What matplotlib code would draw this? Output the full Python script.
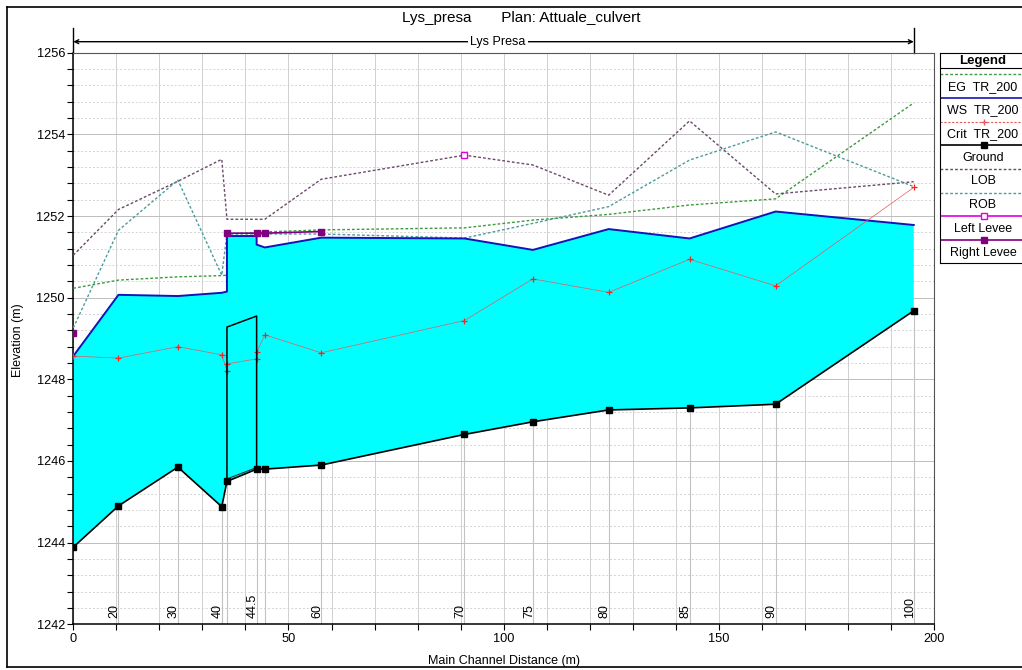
import matplotlib
matplotlib.use("Agg")
import matplotlib.pyplot as plt
from matplotlib.lines import Line2D
from matplotlib.ticker import MultipleLocator
import numpy as np

plt.rcParams['font.family'] = ['Liberation Sans', 'DejaVu Sans']

# cross sections (main channel distance, m)
stations = [0, 10.5, 24.3, 34.5, 35.7, 42.6, 44.5, 57.6, 90.9, 106.8, 124.4, 143.2, 163.2, 195.3]
ground = [1243.89, 1244.90, 1245.85, 1244.88, 1245.50, 1245.80, 1245.80, 1245.90,
          1246.65, 1246.96, 1247.25, 1247.30, 1247.39, 1249.68]
lob = [1251.04, 1252.16, 1252.85, 1253.39, 1251.92, 1251.92, 1251.92, 1252.90,
       1253.49, 1253.25, 1252.51, 1254.33, 1252.54, 1252.84]
rob = [1249.26, 1251.65, 1252.88, 1250.55, 1251.56, 1251.56, 1251.56, 1251.56,
       1251.46, 1251.82, 1252.23, 1253.37, 1254.06, 1252.72]
river_sta = ["", "20", "30", "40", "", "44.5", "", "60", "70", "75", "80", "85", "90", "100"]

# profiles through the culvert (two values at each culvert face)
prof_x = [0, 10.5, 24.3, 34.5, 35.7, 35.7, 42.6, 42.6, 44.5, 57.6, 90.9, 106.8, 124.4, 143.2, 163.2, 195.3]
ws = [1248.57, 1250.07, 1250.04, 1250.12, 1250.15, 1251.51, 1251.51, 1251.30, 1251.23,
      1251.47, 1251.45, 1251.17, 1251.68, 1251.45, 1252.11, 1251.78]
eg = [1250.23, 1250.43, 1250.51, 1250.54, 1250.55, 1251.56, 1251.59, 1251.59, 1251.61,
      1251.66, 1251.71, 1251.90, 1252.04, 1252.27, 1252.42, 1254.77]
crit = [1248.57, 1248.52, 1248.80, 1248.60, 1248.21, 1248.38, 1248.50, 1248.66, 1249.09,
        1248.65, 1249.44, 1250.46, 1250.13, 1250.94, 1250.29, 1252.70]

# culvert barrel
culv_x = [35.7, 35.7, 42.6, 42.6]
culv_z = [1245.50, 1249.28, 1249.55, 1245.80]
culv_inv = [1245.56, 1245.84]

left_levee_x = [90.9]
left_levee_z = [1253.49]
right_levee_x = [0, 35.7, 42.6, 44.5, 57.6]
right_levee_z = [1249.14, 1251.58, 1251.58, 1251.58, 1251.62]

reach_name = "Lys Presa"
reach_x = [0, 195.3]

W, H = 1022, 670
fig = plt.figure(figsize=(W / 100, H / 100), dpi=100)
ax = fig.add_axes([73.3 / W, 1 - 624.3 / H, (934 - 73.3) / W, (624.3 - 52.7) / H])
ax.set_xlim(0, 200)
ax.set_ylim(1242, 1256)

ax.xaxis.set_major_locator(MultipleLocator(50))
ax.xaxis.set_minor_locator(MultipleLocator(10))
ax.yaxis.set_major_locator(MultipleLocator(2))
ax.yaxis.set_minor_locator(MultipleLocator(0.4))
ax.grid(axis='x', which='both', color='#d0d0d0', lw=0.7, ls='-')
ax.grid(axis='y', which='major', color='#bdbdbd', lw=0.7, ls='-')
ax.grid(axis='y', which='minor', color='#d3d3d3', lw=0.7, ls=(0, (2, 2)))
ax.set_axisbelow(True)
ax.tick_params(which='both', direction='out', length=4, width=0.8, labelsize=9.2, pad=2)
for s in ['left', 'bottom']:
    ax.spines[s].set_linewidth(1.1)
for s in ['top', 'right']:
    ax.spines[s].set_color('#555555')

# water between ground and water surface
poly_x = list(prof_x) + stations[::-1]
poly_z = list(ws) + ground[::-1]
ax.fill(poly_x, poly_z, color='#00ffff', lw=0, zorder=2)

# station lines below the ground
for x, g in zip(stations, ground):
    ax.plot([x, x], [1242, g], color='#c2c2c2', lw=0.8, zorder=2.5)

ax.plot(prof_x, eg, color='#3c9a3c', lw=1, ls=(0, (2, 1.5)), zorder=3)
ax.plot(stations, lob, color='#6a4a6a', lw=1, ls=(0, (2, 1.5)), zorder=3)
ax.plot(stations, rob, color='#4f9a9a', lw=1, ls=(0, (2, 1.5)), zorder=3)
ax.plot(prof_x, ws, color='#1414b8', lw=1.4, zorder=4)
ax.plot(prof_x, crit, color='#e85a5a', lw=0.5, zorder=4)
ax.plot(prof_x, crit, ls='none', color='#ff2020', marker='+', ms=4.5, mew=0.9, zorder=4)
ax.plot(culv_x, culv_z, color='black', lw=1.1, zorder=5)
ax.plot(culv_x[::3], culv_inv, color='#333333', lw=0.8, zorder=5)
ax.plot(stations, ground, color='black', lw=1.2, marker='s', ms=4.2, zorder=6)
ax.plot(right_levee_x[1:], right_levee_z[1:], color='#800080', lw=1.2, zorder=6)
ax.plot(right_levee_x, right_levee_z, ls='none', marker='s', ms=4.5, color='#800080', zorder=7)
ax.plot(left_levee_x, left_levee_z, ls='none', marker='s', ms=4.5, mfc='white', mec='#e000e0',
        mew=1, zorder=7)

for x, lab in zip(stations, river_sta):
    if lab:
        ax.annotate(lab, xy=(x, 1242), xytext=(-4, 6), textcoords='offset pixels',
                    rotation=90, ha='center', va='bottom', fontsize=9, zorder=8)

# reach arrow above the plot
ya = 1256 + 11 / 40.83
ytop = 1256 + 24.7 / 40.83
for x in reach_x:
    ax.plot([x, x], [1256, ytop], color='black', lw=1, clip_on=False)
ax.annotate('', xy=(reach_x[0], ya), xytext=(reach_x[1], ya),
            arrowprops=dict(arrowstyle='<->', lw=1, color='black', mutation_scale=7,
                            shrinkA=0, shrinkB=0),
            annotation_clip=False)
ax.text(sum(reach_x) / 2 + 1, ya, reach_name, ha='center', va='center', fontsize=9,
        bbox=dict(fc='white', ec='none', pad=1.5), clip_on=False)

fig.text(521 / W, 1 - 18 / H, "Lys_presa       Plan: Attuale_culvert", ha='center', va='center',
         fontsize=11)
fig.text(18 / W, 1 - 340 / H, "Elevation (m)", rotation=90, ha='center', va='center', fontsize=9)
fig.text(504 / W, 1 - 661 / H, "Main Channel Distance (m)", ha='center', va='center', fontsize=9)

# outer frame
fig.add_artist(Line2D([7 / W, 1], [1 - 7 / H, 1 - 7 / H], color='black', lw=1.2,
                      transform=fig.transFigure))
fig.add_artist(Line2D([7 / W, 7 / W], [1 - 7 / H, 1 - 667 / H], color='black', lw=1.2,
                      transform=fig.transFigure))
fig.add_artist(Line2D([7 / W, 1], [1 - 667 / H, 1 - 667 / H], color='black', lw=1.2,
                      transform=fig.transFigure))

# legend panel
lg = fig.add_axes([940 / W, 1 - 262.7 / H, (W - 940) / W, (262.7 - 52.7) / H])
lg.set_xlim(940, W)
lg.set_ylim(262.7, 52.7)
lg.set_xticks([])
lg.set_yticks([])
lg.spines['right'].set_visible(False)
lg.text(983, 60.7, "Legend", ha='center', va='center', fontsize=9.5, fontweight='bold')
lg.plot([940, W], [68.5, 68.5], color='black', lw=0.8)

legend_entries = [
    ("EG  TR_200", dict(color='#3c9a3c', lw=1, ls=(0, (2, 1.5)))),
    ("WS  TR_200", dict(color='#1414b8', lw=1.2)),
    ("Crit  TR_200", dict(color='#e85a5a', lw=0.8, ls=(0, (2, 1.5)), marker='+', ms=5)),
    ("Ground", dict(color='black', lw=1.2, marker='s', ms=4.2)),
    ("LOB", dict(color='#6a4a6a', lw=1, ls=(0, (2, 1.5)))),
    ("ROB", dict(color='#4f9a9a', lw=1, ls=(0, (2, 1.5)))),
    ("Left Levee", dict(color='#e000e0', lw=1.2, marker='s', ms=4.5, mfc='white')),
    ("Right Levee", dict(color='#800080', lw=1.2, marker='s', ms=4.5)),
]
for i, (lab, style) in enumerate(legend_entries):
    yl = 74.3 + 23.7 * i
    lg.plot([940, W], [yl, yl], markevery=[], **style)
    if 'marker' in style:
        lg.plot([984], [yl], ls='none', **{k: v for k, v in style.items() if k not in ('ls', 'lw')})
    lg.text(983, yl + 12.4, lab, ha='center', va='center', fontsize=9)

fig.savefig("out.png", dpi=100)
